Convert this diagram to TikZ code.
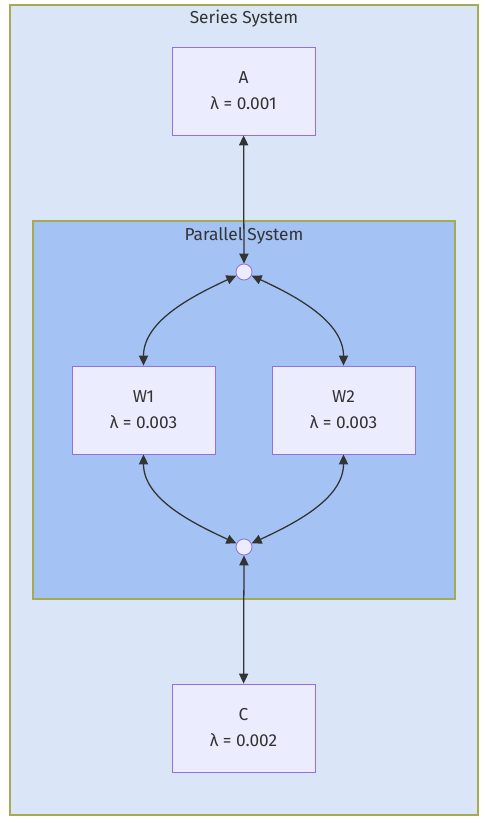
\documentclass[tikz,border=0pt]{standalone}
\usepackage{fontspec}
\setmainfont{Fira Sans}
\usepackage{xcolor}
\usetikzlibrary{shapes.geometric, arrows.meta, positioning, calc}

\definecolor{seriesfill}{HTML}{DAE6F8}
\definecolor{parallelfill}{HTML}{A4C2F4}
\definecolor{groupline}{RGB}{165,170,85}
\definecolor{boxfill}{HTML}{ECECFF}
\definecolor{boxline}{HTML}{9370DB}
\definecolor{linkcol}{HTML}{333333}

\tikzset{
	unit/.style={draw=boxline, fill=boxfill, line width=0.6pt, minimum width=3.575cm, minimum height=2.2cm, align=center, text=linkcol, font=\fontsize{12.3}{18.5}\selectfont},
	joint/.style={circle, draw=boxline, fill=boxfill, line width=0.6pt, minimum size=0.4cm, inner sep=0pt},
	group/.style={draw=groupline, line width=0.8pt},
	title/.style={text=linkcol, font=\fontsize{12.3}{14}\selectfont},
	link/.style={draw=linkcol, line width=0.9pt, {Triangle[length=2.5mm,width=2.3mm]}-{Triangle[length=2.5mm,width=2.3mm]}}
}

\begin{document}
\begin{tikzpicture}
		\useasboundingbox (0,0) rectangle (12.2,-20.625);
		
		% Groups
		\draw[group, fill=seriesfill] (0.25,-0.125) rectangle (11.95,-20.375);
		\node[title] (series) at (6.1,-0.47) {Series System};
		\draw[group, fill=parallelfill] (0.825,-5.525) rectangle (11.375,-14.975);
		\node[title] (parallel) at (6.1,-5.9) {Parallel System};
		
		\node[unit] (A) at (6.0875,-2.275) {A\\λ = 0.001};
		\node[unit] (W1) at (3.5875,-10.25) {W1\\λ = 0.003};
		\node[unit] (W2) at (8.5875,-10.25) {W2\\λ = 0.003};
		\node[unit] (C) at (6.0875,-18.2) {C\\λ = 0.002};
		\node[joint] (top) at (6.1,-6.8) {};
		\node[joint] (bottom) at (6.1,-13.675) {};
		
		\draw[link] (A) -- (top);
		\draw[link] (top) to[out=205, in=90, looseness=0.9] (W1.north);
		\draw[link] (top) to[out=-25, in=90, looseness=0.9] (W2.north);
		\draw[link] (W1.south) to[out=-90, in=155, looseness=0.9] (bottom);
		\draw[link] (W2.south) to[out=-90, in=25, looseness=0.9] (bottom);
		\draw[link] (bottom) -- (C);
	  \end{tikzpicture}
\end{document}
